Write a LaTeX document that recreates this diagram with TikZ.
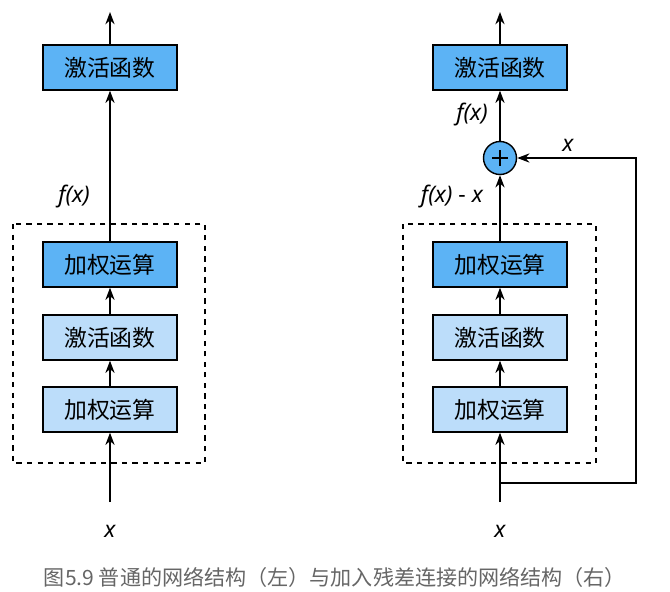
\documentclass[tikz,border=0pt]{standalone}
\usepackage{fontspec}
\setmainfont{Noto Sans}
\newfontfamily\cjk{Noto Sans CJK SC}
\usetikzlibrary{arrows.meta}
\begin{document}
\begin{tikzpicture}[x=0.02cm,y=-0.02cm,
 dk/.style={draw=black,thick,fill=blue!30!cyan!60!white,minimum width=2.68cm,minimum height=0.9cm,font=\cjk\fontsize{13}{13}\selectfont},
 lt/.style={dk,fill=blue!25!cyan!25!white},
 ar/.style={thick,-{Stealth[length=7pt]}},
 lab/.style={font=\fontsize{13}{13}\selectfont\bfseries\itshape}]
\useasboundingbox (0,0) rectangle (670,592);
\definecolor{dkb}{HTML}{5CB3F5}\definecolor{ltb}{HTML}{BCDDFA}
\tikzset{dk/.append style={fill=dkb},lt/.append style={fill=ltb}}
% left
\node[dk] (la) at (110,67.5) {激活函数};
\node[dk] (l3) at (110,264.5) {加权运算};
\node[lt] (l2) at (110,337.5) {激活函数};
\node[lt] (l1) at (110,409.5) {加权运算};
\draw[thick,dashed] (13,224) rectangle (205,463);
\coordinate (lin) at (110,502);
\coordinate (lout) at (110,12);
\draw[ar] (lin) -- (l1);
\draw[ar] (l1) -- (l2);
\draw[ar] (l2) -- (l3);
\draw[ar] (l3) -- (la);
\draw[ar] (la) -- (lout);
\node[lab] (lx) at (110,531) {x};
\node[lab,anchor=east] (lf) at (96,197) {f(x)};
% right
\node[dk] (ra) at (500,67.5) {激活函数};
\node[dk] (r3) at (500,264.5) {加权运算};
\node[lt] (r2) at (500,337.5) {激活函数};
\node[lt] (r1) at (500,409.5) {加权运算};
\draw[thick,dashed] (403,224) rectangle (596,463);
\node[draw=black,thick,fill=dkb,circle,minimum size=0.66cm,inner sep=0] (p) at (500,158) {};
\draw[thick] (p.center)+(-8,0) -- +(8,0) (p.center)+(0,-8) -- +(0,8);
\coordinate (rin) at (500,502);
\coordinate (rout) at (500,12);
\coordinate (s1) at (500,483);
\coordinate (s2) at (636,483);
\coordinate (s3) at (636,158);
\draw[ar] (rin) -- (r1);
\draw[ar] (r1) -- (r2);
\draw[ar] (r2) -- (r3);
\draw[ar] (r3) -- (p);
\draw[ar] (p) -- (ra);
\draw[ar] (ra) -- (rout);
\draw[ar] (s1) -- (s2) -- (s3) -- (p);
\node[lab] (rx) at (500,531) {x};
\node[lab,anchor=east] (rf) at (494,115) {f(x)};
\node[lab,anchor=east] (rfx) at (489,197) {f(x) \textup{-} x};
\node[lab] (sx) at (568,145) {x};
\node[font=\cjk\fontsize{12}{12}\selectfont,text=black!60] (cap) at (335,577) {图5.9 普通的网络结构（左）与加入残差连接的网络结构（右）};
\end{tikzpicture}
\end{document}
